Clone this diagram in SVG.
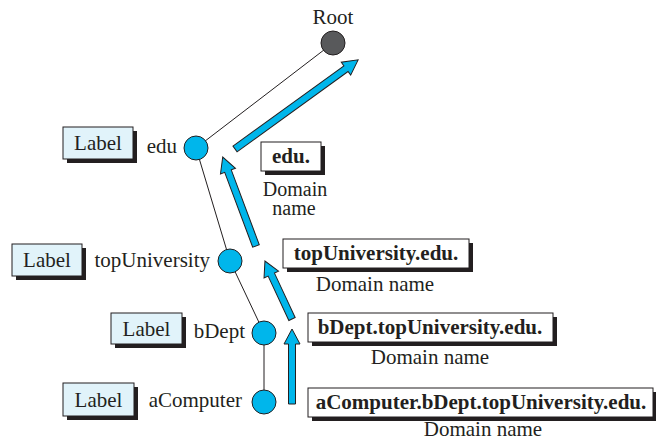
<svg xmlns="http://www.w3.org/2000/svg" width="656" height="441" viewBox="0 0 656 441">
<style>
text{font-family:"Liberation Serif","Times New Roman",serif;font-size:21px;fill:#231f20}
.b{font-weight:bold}
.c{text-anchor:middle}
.e{text-anchor:end}
.s{font-size:20px}
.shadow{fill:#231f20}
.lbl{fill:#e1f3fa;stroke:#231f20;stroke-width:1}
.dom{fill:#ffffff;stroke:#231f20;stroke-width:1}
.node{fill:#00b6eb;stroke:#231f20;stroke-width:1}
.root{fill:#58595b;stroke:#231f20;stroke-width:1}
.edge{stroke:#231f20;stroke-width:1;fill:none}
.arrow{fill:#00b6eb;stroke:#231f20;stroke-width:1;stroke-linejoin:miter}
</style>
<rect width="656" height="441" fill="#ffffff"/>
<g id="connectors">
<line class="edge" x1="333" y1="43" x2="196" y2="148"/>
<line class="edge" x1="196" y1="148" x2="230" y2="261"/>
<line class="edge" x1="230" y1="261" x2="264" y2="333"/>
<line class="edge" x1="264" y1="333" x2="264" y2="402"/>
<path class="arrow" transform="translate(235,149) rotate(-35.9)" d="M0,-3.5 L137,-3.5 L137,-8 L152,0 L137,8 L137,3.5 L0,3.5 Z"/>
<path class="arrow" transform="translate(256,246) rotate(-110.5)" d="M0,-3.5 L80,-3.5 L80,-8 L95,0 L80,8 L80,3.5 L0,3.5 Z"/>
<path class="arrow" transform="translate(292,319) rotate(-115)" d="M0,-3.5 L49,-3.5 L49,-8 L64,0 L49,8 L49,3.5 L0,3.5 Z"/>
<path class="arrow" transform="translate(292,404) rotate(-90)" d="M0,-3.5 L60,-3.5 L60,-8 L75,0 L60,8 L60,3.5 L0,3.5 Z"/>
</g>
<g id="root">
<circle class="root" cx="333" cy="43" r="12"/>
<text class="c" x="333" y="24">Root</text>
</g>
<g id="edu">
<circle class="node" cx="196" cy="148" r="12"/>
<text class="e" x="177" y="153">edu</text>
<rect class="shadow" x="67" y="131" width="70" height="32"/>
<rect class="lbl" x="63" y="127" width="70" height="32"/>
<text class="c" x="98" y="150">Label</text>
</g>
<g id="topUniversity">
<circle class="node" cx="230" cy="261" r="12"/>
<text class="e" x="210" y="267">topUniversity</text>
<rect class="shadow" x="16" y="248" width="70" height="32"/>
<rect class="lbl" x="12" y="244" width="70" height="32"/>
<text class="c" x="47" y="267">Label</text>
</g>
<g id="bDept">
<circle class="node" cx="264" cy="333" r="12"/>
<text class="e" x="245" y="338">bDept</text>
<rect class="shadow" x="115" y="317" width="71" height="31"/>
<rect class="lbl" x="111" y="313" width="71" height="31"/>
<text class="c" x="146.5" y="336">Label</text>
</g>
<g id="aComputer">
<circle class="node" cx="264" cy="402" r="12"/>
<text class="e" x="242" y="407">aComputer</text>
<rect class="shadow" x="67" y="387" width="71" height="33"/>
<rect class="lbl" x="63" y="383" width="71" height="33"/>
<text class="c" x="98.5" y="407">Label</text>
</g>
<g id="dn-edu">
<rect class="shadow" x="265" y="146" width="60" height="29"/>
<rect class="dom" x="261" y="142" width="60" height="29"/>
<text class="c b" x="291" y="163">edu.</text>
<text class="c s" x="295" y="196">Domain</text>
<text class="c s" x="294" y="215">name</text>
</g>
<g id="dn-topUniversity">
<rect class="shadow" x="287" y="243" width="186" height="29"/>
<rect class="dom" x="283" y="239" width="186" height="29"/>
<text class="c b" x="376" y="260">topUniversity.edu.</text>
<text class="c" x="375" y="291">Domain name</text>
</g>
<g id="dn-bDept">
<rect class="shadow" x="312" y="317" width="245" height="29"/>
<rect class="dom" x="308" y="313" width="245" height="29"/>
<text class="c b" x="430" y="334">bDept.topUniversity.edu.</text>
<text class="c" x="430" y="364">Domain name</text>
</g>
<g id="dn-aComputer">
<rect class="shadow" x="312" y="392" width="345" height="29"/>
<rect class="dom" x="308" y="388" width="345" height="29"/>
<text class="c b" x="481" y="409">aComputer.bDept.topUniversity.edu.</text>
<text class="c" x="483" y="436">Domain name</text>
</g>
</svg>
